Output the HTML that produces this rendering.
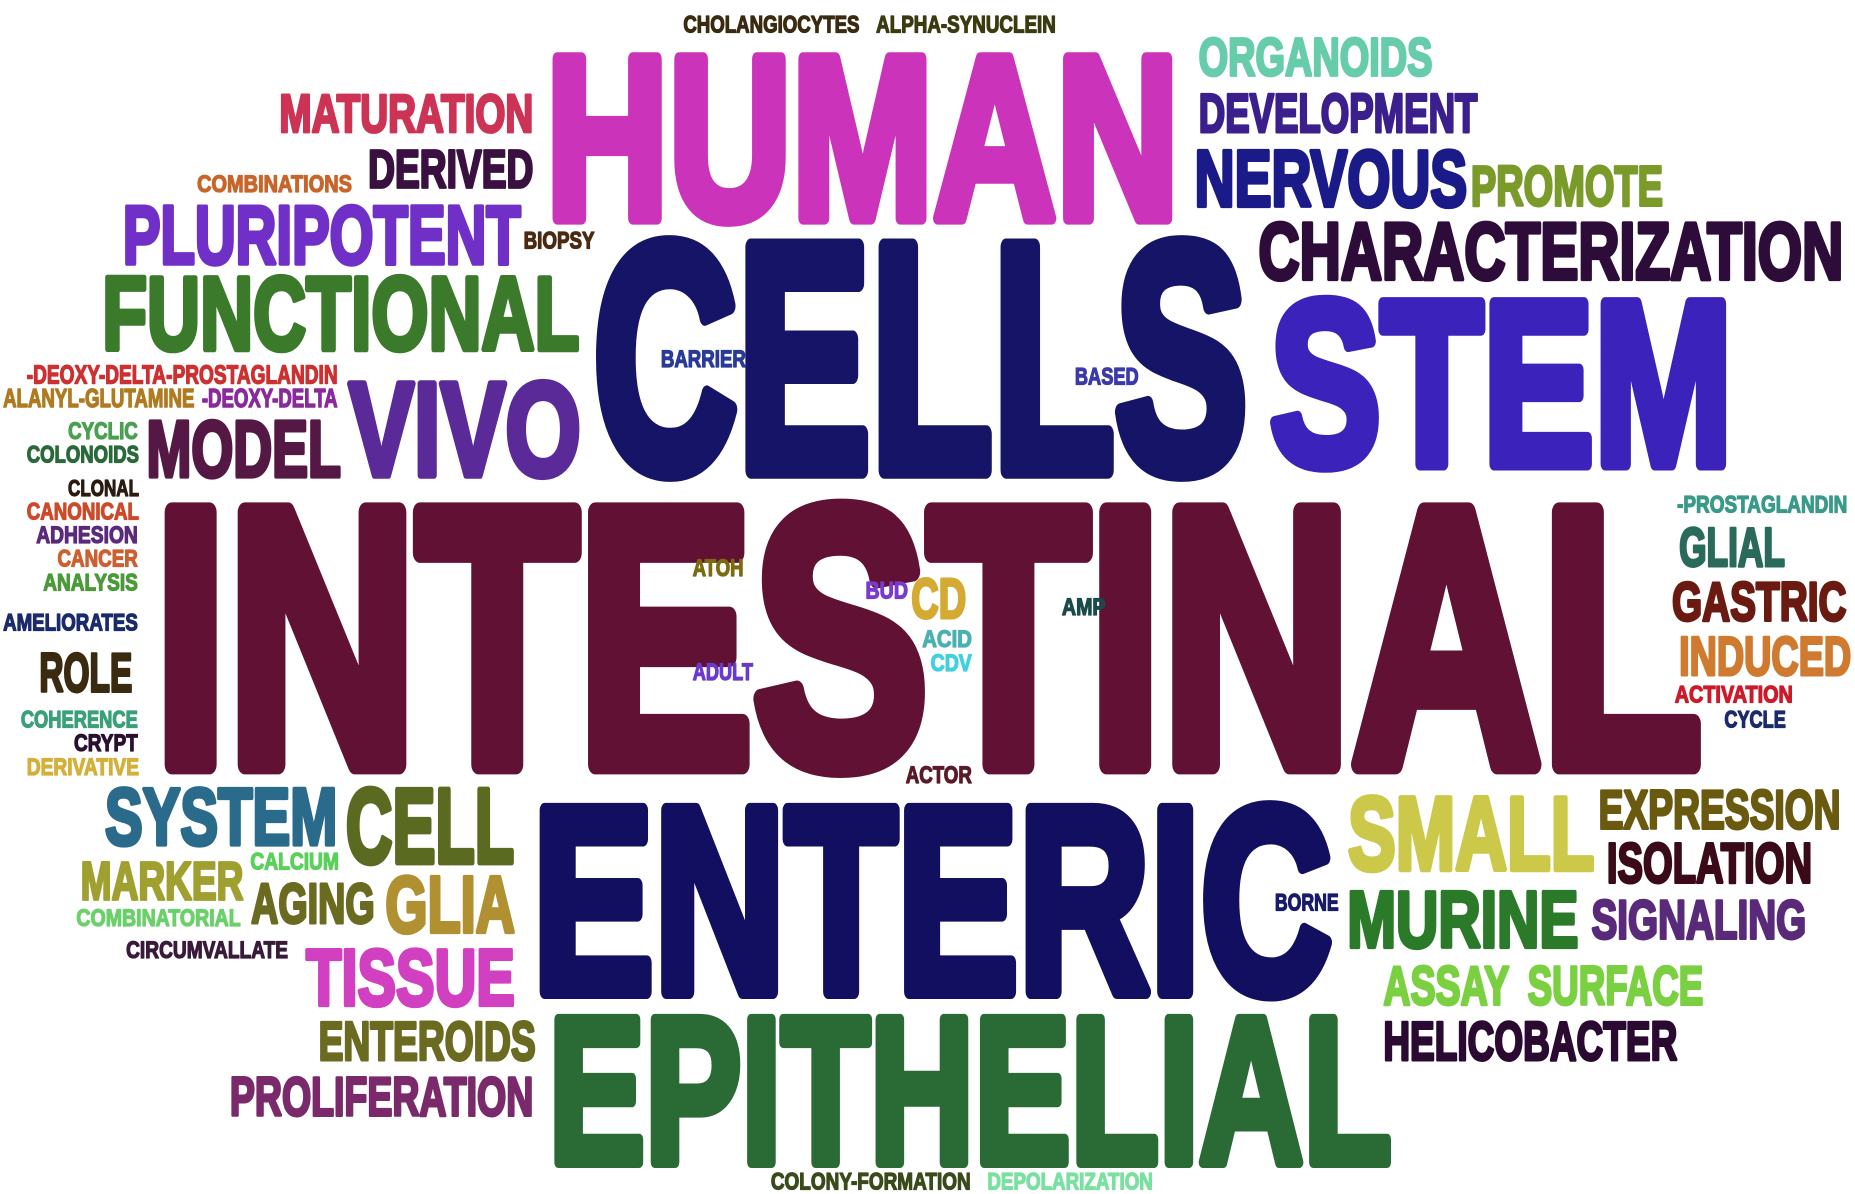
<!DOCTYPE html>
<html>
<head>
<meta charset="utf-8">
<style>
html,body{margin:0;padding:0;background:#fff;}
svg{display:block;}
text{font-family:"Liberation Sans Narrow","Liberation Sans","DejaVu Sans Condensed",sans-serif;font-weight:bold;stroke-linejoin:round;}
</style>
</head>
<body>
<svg id="cloud" width="1855" height="1194" viewBox="0 0 1568 1010" preserveAspectRatio="none" xmlns="http://www.w3.org/2000/svg"></svg>
<script>
const words = ["CHOLANGIOCYTES","ALPHA-SYNUCLEIN","HUMAN","ORGANOIDS","MATURATION","DEVELOPMENT","DERIVED","COMBINATIONS","NERVOUS","PROMOTE","PLURIPOTENT","BIOPSY","CELLS","CHARACTERIZATION","FUNCTIONAL","STEM","BARRIER","BASED","-DEOXY-DELTA-PROSTAGLANDIN","ALANYL-GLUTAMINE","-DEOXY-DELTA","VIVO","MODEL","CYCLIC","COLONOIDS","CLONAL","INTESTINAL","-PROSTAGLANDIN","CANONICAL","ADHESION","CANCER","ANALYSIS","GLIAL","ATOH","BUD","CD","AMP","GASTRIC","AMELIORATES","ACID","CDV","ROLE","INDUCED","ADULT","ACTIVATION","CYCLE","COHERENCE","CRYPT","DERIVATIVE","ACTOR","SYSTEM","CELL","ENTERIC","SMALL","EXPRESSION","ISOLATION","MARKER","CALCIUM","AGING","GLIA","COMBINATORIAL","BORNE","MURINE","SIGNALING","CIRCUMVALLATE","TISSUE","ASSAY","SURFACE","ENTEROIDS","EPITHELIAL","HELICOBACTER","PROLIFERATION","COLONY-FORMATION","DEPOLARIZATION"];
const boxes = [
[577,12,727,28],[740,12,893,28],[456,38,1002,190],[1012,30,1212,65],[235,78,452,113],[1012,77,1250,113],[310,125,452,160],[166,147,298,163],[1008,124,1242,176],[1242,138,1407,175],[102,171,442,225],[442,195,503,211],[494,193,1062,405],[1062,185,1560,238],[84,230,492,298],[1068,245,1470,398],[558,295,631,311],[908,310,963,326],[22,308,286,325],[2,328,165,345],[170,328,286,345],[292,318,494,405],[122,353,290,405],[57,356,117,372],[22,376,118,392],[57,405,118,420],[122,415,1447,655],[1417,418,1562,434],[22,424,118,440],[30,444,117,460],[48,464,117,480],[36,484,117,500],[1418,444,1510,480],[585,472,629,488],[731,491,768,507],[769,487,818,524],[897,505,935,521],[1412,490,1562,526],[2,518,117,534],[779,532,822,548],[786,552,822,568],[32,550,113,586],[1418,536,1566,572],[585,560,637,576],[1415,579,1516,595],[1457,600,1510,616],[17,600,117,616],[62,620,117,636],[22,640,118,656],[765,647,822,663],[87,663,287,716],[290,663,437,732],[444,672,1132,845],[1137,670,1350,738],[1350,666,1557,702],[1357,711,1533,748],[67,727,207,762],[211,720,287,736],[211,745,318,782],[324,738,437,790],[64,768,204,784],[1077,755,1132,771],[1137,751,1336,803],[1344,759,1528,795],[106,795,244,811],[257,800,437,852],[1168,815,1277,851],[1290,815,1441,851],[268,862,454,898],[459,852,1181,988],[1168,862,1419,898],[193,909,452,945],[651,991,821,1007],[834,991,975,1007]];
const colors = ["#3a2a10","#3b3a10","#cc33bb","#66ccaa","#cc3355","#3b1f8c","#3a1040","#c8652a","#1a1a88","#7a9a2a","#7030c8","#4a2a10","#161466","#2e0c3a","#3a7a2a","#3a22bb","#2a3a99","#3a3aaa","#cc3030","#b07a20","#8a2a9a","#5a2a99","#551845","#4aa050","#2a6a3a","#2a1a10","#611234","#3a9a8a","#cc4a2a","#5a2a7a","#cc6030","#4a9a3a","#2a6a5a","#7a6a10","#7a3acc","#d4aa33","#1a4a4a","#6a1a10","#1a2a6a","#4ab0b0","#40d0e0","#3a2a10","#d07a30","#6a3acc","#cc1a2a","#1a2a6a","#3aa07a","#2a1030","#d4b03a","#5a1a2a","#2a6a8a","#5a6a20","#120e60","#ccc84a","#6a5a10","#3a0a18","#a0a030","#5ad05a","#6a6a20","#b09030","#6ad06a","#1a1a6a","#2a7a2a","#5a2a7a","#3a1a3a","#d040c0","#7ad040","#7ad040","#6a6a20","#2a6a35","#2a0a30","#7a2a6a","#3a4a1a","#7ae0a0"];

const svg = document.getElementById('cloud');
const NS = 'http://www.w3.org/2000/svg';
words.forEach((w, i) => {
  const b = boxes[i];
  const h = b[3] - b[1];
  let fs = h / 0.72;
  const sw = fs * 0.05;
  fs = (h - sw) / 0.72;
  const t = document.createElementNS(NS, 'text');
  
  
  t.setAttribute('x', (b[0] + sw / 2).toFixed(1));
  t.setAttribute('y', (b[3] - sw / 2).toFixed(1));
  t.setAttribute('font-size', fs.toFixed(1));
  t.setAttribute('textLength', (b[2] - b[0] - sw).toFixed(1));
  t.setAttribute('lengthAdjust', 'spacingAndGlyphs');
  t.setAttribute('fill', colors[i]);
  t.setAttribute('stroke', colors[i]);
  t.setAttribute('stroke-width', sw.toFixed(2));
  t.textContent = w;
  svg.appendChild(t);
});
</script>
</body>
</html>
